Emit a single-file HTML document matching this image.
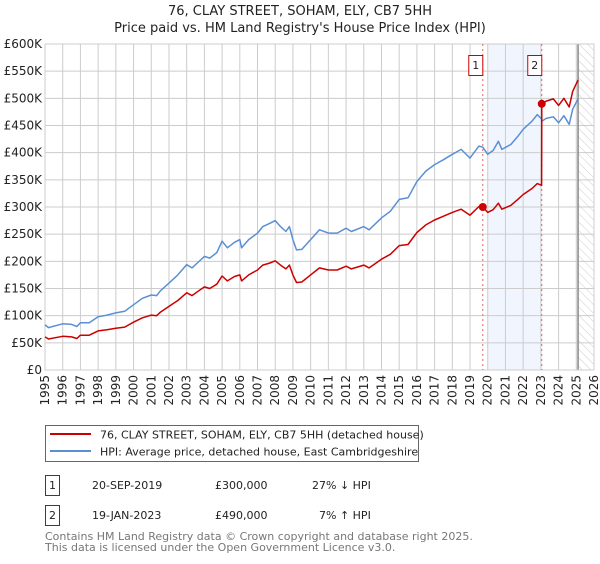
<!DOCTYPE html>
<html><head><meta charset="utf-8">
<style>
body{margin:0;background:#fff;width:600px;height:560px;overflow:hidden;font-family:"DejaVu Sans","Liberation Sans",sans-serif;}
svg text{font-family:"DejaVu Sans","Liberation Sans",sans-serif;}
</style></head>
<body>
<svg id="chart" width="600" height="560" xmlns="http://www.w3.org/2000/svg">
<text x="300" y="15" text-anchor="middle" font-size="13" fill="#222">76, CLAY STREET, SOHAM, ELY, CB7 5HH</text>
<text x="300" y="32" text-anchor="middle" font-size="13" fill="#222">Price paid vs. HM Land Registry's House Price Index (HPI)</text>
<g id="bg"></g><g id="grid"></g><g id="marks"></g><g id="axes"></g>
<g>
<rect x="45.5" y="425.5" width="373" height="36" fill="#fff" stroke="#666"/>
<line x1="50" y1="434" x2="91" y2="434" stroke="#cc0000" stroke-width="2"/>
<text x="100" y="438.5" font-size="11" fill="#222">76, CLAY STREET, SOHAM, ELY, CB7 5HH (detached house)</text>
<line x1="50" y1="451" x2="91" y2="451" stroke="#5b8fd4" stroke-width="2"/>
<text x="100" y="455.5" font-size="11" fill="#222">HPI: Average price, detached house, East Cambridgeshire</text>
</g>
<g font-size="11" fill="#222">
<rect x="45.5" y="475.5" width="14" height="20" fill="#fff" stroke="#cc0000"/>
<text x="52.5" y="489" text-anchor="middle">1</text>
<text x="92" y="489">20-SEP-2019</text>
<text x="215" y="489">£300,000</text>
<text x="312" y="489">27% ↓ HPI</text>
<rect x="45.5" y="505.5" width="14" height="20" fill="#fff" stroke="#cc0000"/>
<text x="52.5" y="519" text-anchor="middle">2</text>
<text x="92" y="519">19-JAN-2023</text>
<text x="215" y="519">£490,000</text>
<text x="319" y="519">7% ↑ HPI</text>
</g>
<text x="45" y="540" font-size="11" fill="#777">Contains HM Land Registry data © Crown copyright and database right 2025.</text>
<text x="45" y="551" font-size="11" fill="#777">This data is licensed under the Open Government Licence v3.0.</text>
</svg>
<script>
const years=[1995,1995.2,1996,1996.5,1996.8,1997,1997.5,1998,1998.5,1999,1999.5,2000,2000.5,2001,2001.3,2001.5,2002,2002.5,2003,2003.3,2003.6,2004,2004.3,2004.7,2005,2005.3,2005.7,2006,2006.1,2006.5,2007,2007.3,2007.7,2008,2008.3,2008.6,2008.8,2009,2009.2,2009.5,2010,2010.5,2011,2011.5,2012,2012.3,2013,2013.3,2014,2014.5,2015,2015.5,2016,2016.5,2017,2017.5,2018,2018.5,2019,2019.5,2019.72];
const hpi=[83,78,85,84,80,87,87,98,101,105,108,120,132,138,137,145,160,175,194,188,197,209,206,216,237,225,235,240,225,240,252,264,270,275,264,255,264,240,221,222,240,258,252,252,261,255,264,258,280,292,314,317,347,366,378,387,397,406,390,412,410];
const price1=[61,57,62,61,58,64,64,72,74,77,79,88,96,101,100,106,117,128,142,137,144,153,150,158,173,164,172,175,164,175,184,193,197,201,193,186,193,175,161,162,175,188,184,184,191,186,193,188,204,213,229,231,253,267,276,283,290,296,285,301,300];
const years2=[2019.72,2020,2020.3,2020.6,2020.8,2021.3,2021.7,2022,2022.5,2022.8,2023.04];
const hpi2=[410,397,404,421,406,415,430,443,458,470,462];
const price2=[300,290,295,307,296,303,314,323,334,343,340];
const years3=[2023.05,2023.3,2023.7,2024,2024.3,2024.6,2024.8,2025.1];
const hpi3=[458,463,466,455,468,452,480,499];
const price3=[490,495,499,487,500,484,513,534];
const yTicks=[0,50,100,150,200,250,300,350,400,450,500,550,600];
const xTicks=[1995,1996,1997,1998,1999,2000,2001,2002,2003,2004,2005,2006,2007,2008,2009,2010,2011,2012,2013,2014,2015,2016,2017,2018,2019,2020,2021,2022,2023,2024,2025,2026];
const sales=[{n:"1",t:2019.72,v:300},{n:"2",t:2023.05,v:490}];

const NS="http://www.w3.org/2000/svg";
const X0=45,X1=594,Y0=370,Y1=44;
const xs=t=>X0+(t-1995)/(2026-1995)*(X1-X0);
const ys=v=>Y0-v/600*(Y0-Y1);
function mk(tag,attrs,parent){const e=document.createElementNS(NS,tag);for(const k in attrs)e.setAttribute(k,attrs[k]);document.getElementById(parent).appendChild(e);return e;}
// backgrounds
let sh=mk('rect',{x:xs(2020),y:Y1,width:xs(2023.05)-xs(2020),height:Y0-Y1,fill:'#eef3fc',opacity:0.8},'bg');


const defs=document.createElementNS(NS,'defs');defs.innerHTML='<pattern id="hatch" width="6" height="6" patternUnits="userSpaceOnUse" patternTransform="rotate(-45)"><line x1="0" y1="0" x2="0" y2="6" stroke="#ccc" stroke-width="1"/></pattern>';document.getElementById('chart').prepend(defs);
let ht=mk('rect',{x:xs(2025.1),y:Y1,width:X1-xs(2025.1),height:Y0-Y1,fill:'url(#hatch)'},'bg');


// grid
yTicks.forEach(v=>{
 let l=mk('line',{x1:X0,x2:X1,y1:ys(v),y2:ys(v),stroke:'#ccc'},'grid');
 
 
 let t=mk('text',{x:X0-3,y:ys(v)+4,'text-anchor':'end','font-size':12,fill:'#222'},'axes');
 
 
 t.textContent=v===0?'£0':'£'+v+'K';
});
xTicks.forEach(y=>{
 let l=mk('line',{x1:xs(y),x2:xs(y),y1:Y1,y2:Y0,stroke:'#ccc'},'grid');
 
 
 let t=mk('text',{x:0,y:0,'text-anchor':'end','font-size':12,fill:'#222',transform:`translate(${xs(y)+4},${Y0+5}) rotate(-90)`},'axes');
 
 
 t.textContent=y;
});
let vl=mk('line',{x1:xs(2025.1),x2:xs(2025.1),y1:Y1,y2:Y0,stroke:'#888','stroke-width':1.5},'grid');


let fr=mk('rect',{x:X0,y:Y1,width:X1-X0,height:Y0-Y1,fill:'none',stroke:'#ccc'},'grid');


// sale lines
sales.forEach(s=>{
 let l=mk('line',{x1:xs(s.t),x2:xs(s.t),y1:Y1,y2:Y0,stroke:'#e06666','stroke-dasharray':'2,3'},'marks');
 
 
 let b=mk('rect',{x:xs(s.t)-14,y:55.5,width:14,height:20,fill:'#fff',stroke:'#cc0000'},'marks');
 
 
 let t=mk('text',{x:xs(s.t)-7,y:69,'text-anchor':'middle','font-size':11,fill:'#222'},'marks');
 
 
 t.textContent=s.n;
});
function line(xa,va,color,name){
 const d=xa.map((t,i)=>(i?'L':'M')+xs(t).toFixed(1)+','+ys(va[i]).toFixed(1)).join('');
 let p=mk('path',{d,fill:'none',stroke:color,'stroke-width':1.5,'stroke-linejoin':'round'},'marks');
 
 
}
line(years.concat(years2.slice(1),years3),hpi.concat(hpi2.slice(1),hpi3),'#5b8fd4','hpi-line');
line(years.concat(years2.slice(1),years3),price1.concat(price2.slice(1),price3),'#cc0000','price-line');
sales.forEach(s=>{
 let c=mk('circle',{cx:xs(s.t),cy:ys(s.v),r:4,fill:'#cc0000'},'marks');
 
 
});
</script>
</body></html>
